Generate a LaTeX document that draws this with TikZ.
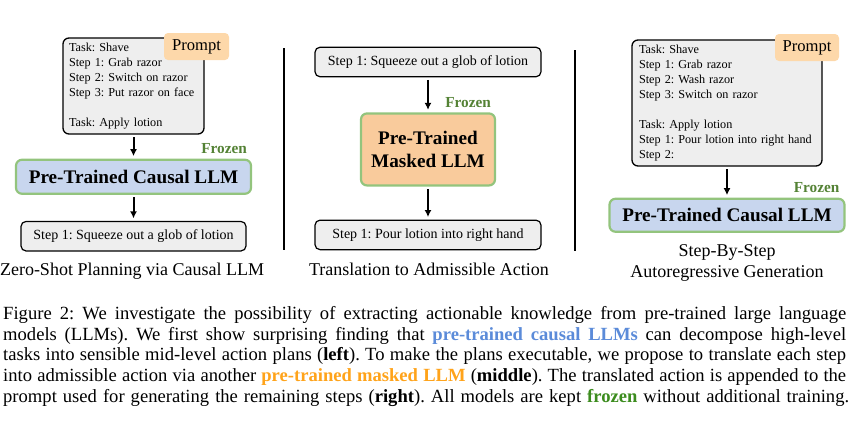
\documentclass[tikz,border=0pt]{standalone}
\usepackage{fontspec}
\setmainfont{Liberation Serif}
\definecolor{stepfill}{HTML}{EEEEEE}
\definecolor{tagfill}{HTML}{FDD8AA}
\definecolor{llmblue}{HTML}{C8D6EE}
\definecolor{maskfill}{HTML}{F9CB9C}
\definecolor{frozenline}{HTML}{93C47D}
\definecolor{frozengreen}{HTML}{548235}
\definecolor{capblue}{HTML}{5B8BD9}
\definecolor{caporange}{HTML}{FFA31A}
\definecolor{capgreen}{HTML}{3C8C1E}
\usetikzlibrary{positioning, arrows.meta, calc}
\frenchspacing

\begin{document}
\begin{tikzpicture}[x=1pt, y=-1pt, node distance=24pt,
  every node/.style={font=\fontsize{14}{15}\selectfont, inner sep=0pt},
  stepbox/.style={rounded corners=5pt, draw=black, fill=stepfill, line width=1.2pt, minimum height=29.5pt},
  promptbox/.style={rounded corners=6pt, draw=black, fill=stepfill, line width=1.3pt, align=left, font=\fontsize{12.2}{15}\selectfont},
  tag/.style={rounded corners=4pt, fill=tagfill, minimum width=65pt, minimum height=27pt, font=\fontsize{16.6}{18}\selectfont},
  llm/.style={rounded corners=6pt, draw=frozenline, line width=2.2pt, fill=llmblue, align=center, font=\fontsize{19.2}{23}\selectfont\bfseries},
  frozen/.style={anchor=base east, text=frozengreen, font=\fontsize{15.3}{17}\selectfont\bfseries},
  subtitle/.style={anchor=base, align=center, font=\fontsize{18}{21}\selectfont},
  arr/.style={-{Latex[length=7pt, width=7pt]}, line width=2pt, shorten <=2.5pt, shorten >=2.5pt},
  divider/.style={line width=1.6pt}]
  \useasboundingbox (0,0) rectangle (862,421);

  \node[promptbox, text width=129pt, inner xsep=6pt, minimum height=96pt] (promptL) at (133.5,86) {Task: Shave\\Step 1: Grab razor\\Step 2: Switch on razor\\Step 3: Put razor on face\\[15pt]Task: Apply lotion};
  \node[tag] (tagL) at (196.5,46.5) {Prompt};
  \node[llm, minimum width=235pt, minimum height=34pt, below=of promptL] (llmL) {Pre-Trained Causal LLM};
  \node[stepbox, minimum width=225pt, below=26pt of llmL] (outL) {Step 1: Squeeze out a glob of lotion};
  \node[frozen] (frozenL) at ([xshift=-5pt, yshift=5pt]llmL.north east) {Frozen};
  \node[subtitle] (subL) at (132,275) {Zero-Shot Planning via Causal LLM};

  \node[stepbox, minimum width=226pt] (inM) at (428,62) {Step 1: Squeeze out a glob of lotion};
  \node[llm, fill=maskfill, minimum width=134pt, minimum height=72pt, below=35pt of inM] (maskM) {Pre-Trained\\Masked LLM};
  \node[stepbox, minimum width=226pt, below=33pt of maskM] (outM) {Step 1: Pour lotion into right hand};
  \node[frozen] (frozenM) at ([xshift=-5pt, yshift=5pt]maskM.north east) {Frozen};
  \node[subtitle] (subM) at (429,275) {Translation to Admissible Action};

  \node[promptbox, text width=176pt, inner xsep=7pt, minimum height=126pt] (promptR) at (727,103) {Task: Shave\\Step 1: Grab razor\\Step 2: Wash razor\\Step 3: Switch on razor\\[15pt]Task: Apply lotion\\Step 1: Pour lotion into right hand\\Step 2:};
  \node[tag, minimum width=64pt] (tagR) at (807,47.5) {Prompt};
  \node[llm, minimum width=235pt, minimum height=33pt, below=31pt of promptR] (llmR) {Pre-Trained Causal LLM};
  \node[frozen] (frozenR) at ([xshift=-6pt, yshift=5pt]llmR.north east) {Frozen};
  \node[subtitle] (subR) at (727,277) {Step-By-Step\\Autoregressive Generation};

  \draw[arr] (promptL) -- (llmL);
  \draw[arr] (llmL) -- (outL);
  \draw[arr] (inM) -- (maskM);
  \draw[arr] (maskM) -- (outM);
  \draw[arr] (promptR) -- (llmR);

  \draw[divider] (284,48) -- (284,250);
  \draw[divider] (575,50) -- (575,251);

  \node[anchor=north west, text width=843pt, align=left, font=\fontsize{18.6}{20.8}\selectfont] (fig) at (3,306) {%
    \spaceskip=.25em plus .4em minus .09em\xspaceskip=\spaceskip
    \makebox[843pt][s]{Figure 2: We investigate the possibility of extracting actionable knowledge from pre-trained large language}\\
    \makebox[843pt][s]{models (LLMs). We first show surprising finding that \textcolor{capblue}{\textbf{pre-trained causal LLMs}} can decompose high-level}\\
    \makebox[843pt][s]{tasks into sensible mid-level action plans (\textbf{left}). To make the plans executable, we propose to translate each step}\\
    \makebox[843pt][s]{into admissible action via another \textcolor{caporange}{\textbf{pre-trained masked LLM}} (\textbf{middle}). The translated action is appended to the}\\
    \makebox[846pt][s]{prompt used for generating the remaining steps (\textbf{right}). All models are kept \textcolor{capgreen}{\textbf{frozen}} without additional training.}};
\end{tikzpicture}
\end{document}
